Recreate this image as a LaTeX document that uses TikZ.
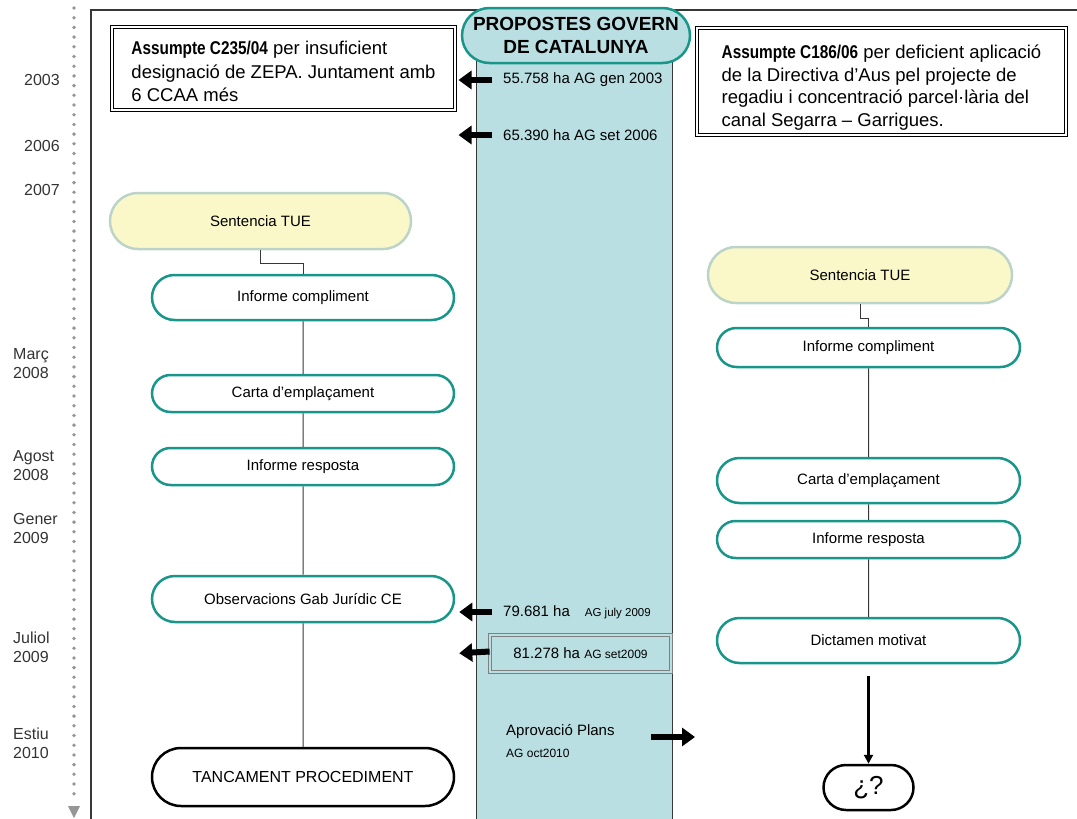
\documentclass[tikz,border=0pt]{standalone}
\usepackage{fontspec}
\setmainfont{Liberation Sans}
\newfontfamily\narrowfont[FakeStretch=0.83]{Liberation Sans}
\usetikzlibrary{shapes.misc,arrows.meta}

\definecolor{tealline}{RGB}{24,150,138}
\definecolor{colblue}{RGB}{186,223,226}
\definecolor{sentfill}{RGB}{250,248,200}
\definecolor{sentline}{RGB}{188,212,200}
\definecolor{framegray}{RGB}{55,55,55}
\definecolor{dotgray}{RGB}{150,150,150}

\newcommand{\fsz}[2]{\fontsize{#1}{#2}\selectfont}

\tikzset{
    pill/.style={rounded rectangle,draw=tealline,line width=2.5pt,fill=white,
                 minimum width=302pt,inner sep=0pt,font=\fsz{15}{18}},
    sentpill/.style={pill,draw=sentline,fill=sentfill},
    endpill/.style={pill,draw=black},
    casebox/.style={draw,double,line width=1pt,double distance=2.5pt,fill=white},
    casetext/.style={inner sep=0pt,align=left,font=\fsz{18.5}{23.5}},
    fatarrow/.style={line width=6pt,-{Triangle[length=13pt,width=18pt]}},
    link/.style={draw=framegray,line width=1pt},
    yearlbl/.style={inner sep=0pt,text=black!80,font=\fsz{16}{19},align=left},
    coltext/.style={anchor=west,inner sep=0pt,font=\fsz{15}{18}}
}

\begin{document}
\begin{tikzpicture}[x=1pt,y=-1pt]
                \useasboundingbox (0,0) rectangle (1077,819);

                % time axis
                \draw[dotgray,line width=3.8pt,line cap=round,dash pattern=on 0pt off 9.7pt] (74,8) -- (74,802);
                \fill[dotgray] (68,806) -- (80,806) -- (74,818) -- cycle;
                \draw[framegray,line width=1.5pt] (1077,10) -- (91,10) -- (91,819);

                \begin{scope}[every node/.style={yearlbl}]
                    \node[anchor=east] (y03) at (60,80) {2003};
                    \node[anchor=east] (y06) at (60,146) {2006};
                    \node[anchor=east] (y07) at (60,190) {2007};
                    \node[anchor=west] (y08a) at (13,364) {Març\\2008};
                    \node[anchor=west] (y08b) at (13,465.5) {Agost\\2008};
                    \node[anchor=west] (y09a) at (13,528.5) {Gener\\2009};
                    \node[anchor=west] (y09b) at (13,647.5) {Juliol\\2009};
                    \node[anchor=west] (y10) at (13,743.5) {Estiu\\2010};
                \end{scope}

                % central column
                \fill[colblue] (476,40) rectangle (672,819);
                \draw[framegray,line width=1pt] (476,40) -- (476,819) (672,40) -- (672,819);
                \node[rounded rectangle,draw=tealline,line width=2.5pt,fill=colblue,
                      minimum width=228pt,minimum height=55pt,inner sep=0pt,align=center,
                      font=\bfseries\fsz{19}{23}] (head) at (576,35.5) {PROPOSTES GOVERN\\DE CATALUNYA};

                \node[casebox,minimum width=343pt,minimum height=83pt] (boxA) at (283.5,68.5) {};
                \node[casetext] (txtA) at ([yshift=-3pt]boxA.center)
                    {{\narrowfont\bfseries Assumpte C235/04} per insuficient\\designació de ZEPA. Juntament amb\\6 CCAA més};
                \node[casebox,minimum width=369pt,minimum height=107pt] (boxB) at (881.5,81.5) {};
                \node[casetext,font=\fsz{18.5}{22.5}] (txtB) at ([yshift=-6pt]boxB.center)
                    {{\narrowfont\bfseries Assumpte C186/06} per deficient aplicació\\de la Directiva d'Aus pel projecte de\\regadiu i concentració parcel·lària del\\canal Segarra – Garrigues.};

                \node[coltext] (t03) at (503,80) {55.758 ha AG gen 2003};
                \node[coltext] (t06) at (503,135) {65.390 ha AG set 2006};
                \node[coltext] (t09a) at (503,612) {79.681 ha\quad{\fsz{11.5}{14}AG july 2009}};
                \node[draw=gray,double=colblue,line width=0.8pt,double distance=2pt,
                      minimum width=181pt,minimum height=37pt,font=\fsz{15}{18}] (t09b) at (580.5,653.5)
                    {81.278 ha {\fsz{12}{14}AG set2009}};
                \node[coltext] (tapr) at (506,732) {Aprovació Plans};
                \node[coltext,font=\fsz{12}{14}] (tag) at (506,753) {AG oct2010};

                % left procedure
                \begin{scope}[every node/.append style={pill}]
                    \node[sentpill,minimum width=301pt,minimum height=56pt] (sentL) at (260.5,221) {Sentencia TUE};
                    \node[minimum height=45pt] (infL) at (303,297.5) {Informe compliment};
                    \node[minimum height=37pt] (cartaL) at (303,393.5) {Carta d'emplaçament};
                    \node[minimum height=37pt] (respL) at (303,466.5) {Informe resposta};
                    \node[minimum height=46pt] (obsL) at (303,599) {Observacions Gab Jurídic CE};
                    \node[endpill,minimum height=58pt,font=\fsz{16}{19}] (tancL) at (303,777) {TANCAMENT PROCEDIMENT};
                \end{scope}

                % right procedure
                \begin{scope}[every node/.append style={pill,minimum width=303pt}]
                    \node[sentpill,minimum width=304pt,minimum height=56pt] (sentR) at (860,275) {Sentencia TUE};
                    \node[minimum height=39pt] (infR) at (868.5,347.5) {Informe compliment};
                    \node[minimum height=45pt] (cartaR) at (868.5,480.5) {Carta d'emplaçament};
                    \node[minimum height=37pt] (respR) at (868.5,539.5) {Informe resposta};
                    \node[minimum height=45pt] (dictR) at (868.5,640.5) {Dictamen motivat};
                    \node[endpill,minimum width=90pt,minimum height=45pt,font=\fsz{26}{30}] (quest) at (868.5,787.5) {¿?};
                \end{scope}

                \begin{scope}[every edge/.style={link}]
                    \draw[link] (sentL.south) -- ++(0,13) -| (infL.north);
                    \path [-] (infL) edge (cartaL);
                    \path [-] (cartaL) edge (respL);
                    \path [-] (respL) edge (obsL);
                    \path [-] (obsL) edge (tancL);
                    \draw[link] (sentR.south) -- ++(0,14) -| (infR.north);
                    \path [-] (infR) edge (cartaR);
                    \path [-] (cartaR) edge (respR);
                    \path [-] (respR) edge (dictR);
                \end{scope}
                \draw[line width=2.2pt,-{Triangle[length=9pt,width=9pt]}] ([yshift=-12pt]dictR.south) -- (quest.north);

                % proposals pointing out of the column
                \draw[fatarrow,shorten >=3pt] ([xshift=-11pt]t03.west) -- (boxA.east |- t03.west);
                \draw[fatarrow,shorten >=3pt] ([xshift=-11pt]t06.west) -- (boxA.east |- t06.west);
                \draw[fatarrow,shorten >=4pt] ([xshift=-11pt]t09a.west) -- (obsL.east |- t09a.west);
                \draw[fatarrow,shorten >=4pt] ([yshift=2pt]t09b.west) -- (obsL.east |- t09b.west);
                \coordinate (aprFrom) at (651,737);
                \coordinate (aprTo) at (695,737);
                \draw[fatarrow] (aprFrom) -- (aprTo);
            \end{tikzpicture}
\end{document}
